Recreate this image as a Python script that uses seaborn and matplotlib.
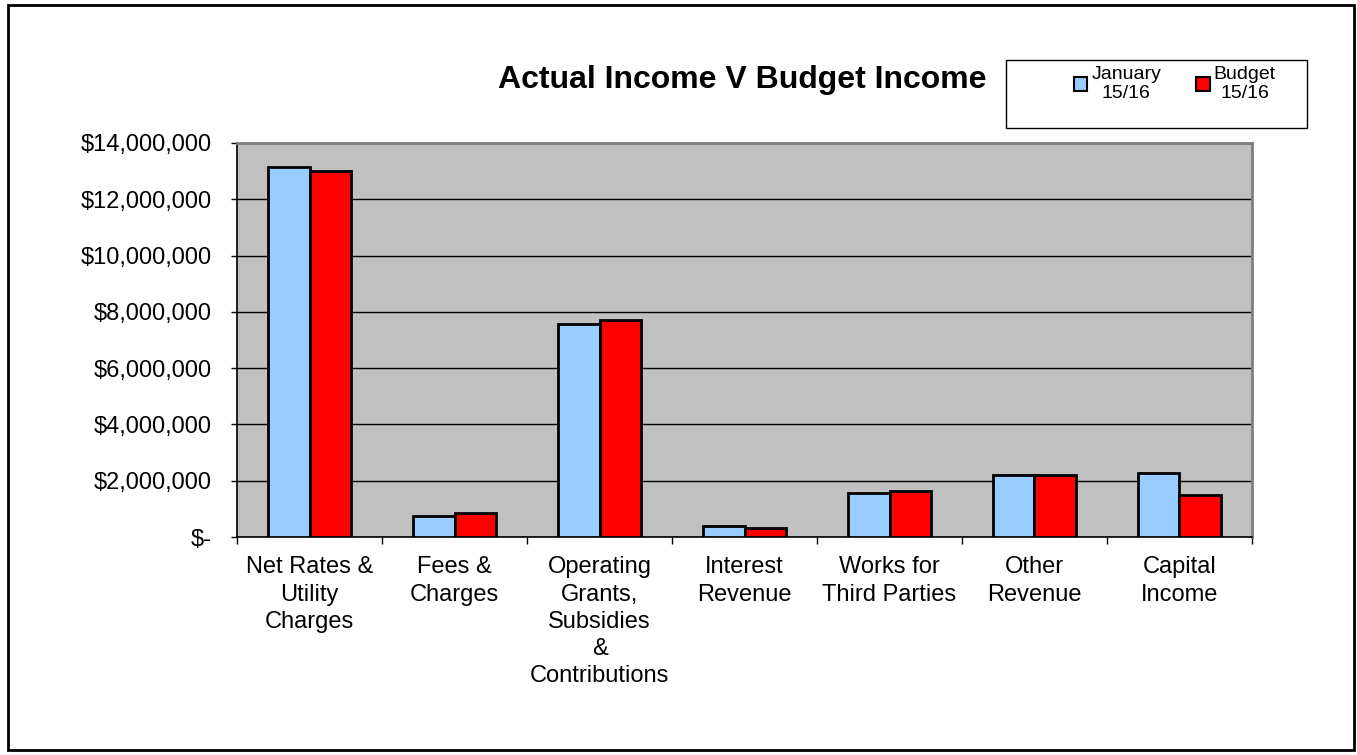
import numpy as np
import pandas as pd
import seaborn as sns
import matplotlib
matplotlib.use("Agg")
import matplotlib.pyplot as plt
from matplotlib.patches import Rectangle, Patch
from matplotlib.ticker import FuncFormatter, MultipleLocator

categories = ["Net Rates &\nUtility\nCharges", "Fees &\nCharges",
              "Operating\nGrants,\nSubsidies\n&\nContributions",
              "Interest\nRevenue", "Works for\nThird Parties",
              "Other\nRevenue", "Capital\nIncome"]
series = ["January\n15/16", "Budget\n15/16"]
january = [13150000, 745000, 7570000, 400000, 1550000, 2200000, 2260000]
budget = [13000000, 840000, 7710000, 330000, 1620000, 2220000, 1500000]
colors = ["#99CCFF", "#FF0000"]

df = pd.DataFrame({
    "category": categories * 2,
    "series": [series[0]] * len(categories) + [series[1]] * len(categories),
    "value": january + budget,
})

sns.set_style("white")
plt.rcParams["font.family"] = ["Liberation Sans", "DejaVu Sans"]
plt.rcParams["text.color"] = "black"
plt.rcParams["xtick.color"] = "black"
plt.rcParams["ytick.color"] = "black"

fig = plt.figure(figsize=(13.57, 7.55), dpi=100)
ax = fig.add_axes([0.1747, 0.2887, 0.7479, 0.5219])
ax.set_facecolor("#C0C0C0")

sns.barplot(data=df, x="category", y="value", hue="series", palette=colors,
            saturation=1, width=0.57, edgecolor="black", linewidth=2, ax=ax,
            legend=False, zorder=3)

ax.set_xlim(-0.5, len(categories) - 0.5)
ax.set_ylim(0, 14000000)
ax.yaxis.set_major_locator(MultipleLocator(2000000))
ax.yaxis.set_major_formatter(FuncFormatter(
    lambda v, p: "$-" if v == 0 else "${:,.0f}".format(v)))
ax.grid(axis="y", color="black", linewidth=1, zorder=1)
ax.set_axisbelow(True)

ax.set_xlabel("")
ax.set_ylabel("")
ax.set_xticks(np.arange(-0.5, len(categories), 1), minor=True)
ax.tick_params(axis="x", which="major", length=0, pad=14, labelsize=17)
ax.tick_params(axis="x", which="minor", length=5, width=1, direction="out", color="black")
ax.tick_params(axis="y", length=4, width=1, direction="out", color="black", labelsize=17, pad=14)
ax.xaxis.set_ticks_position("bottom")
ax.yaxis.set_ticks_position("left")
for lab in ax.get_xticklabels():
    lab.set_linespacing(1.3)

for side in ["left", "bottom"]:
    ax.spines[side].set_color("black")
    ax.spines[side].set_linewidth(1.2)
for side in ["top", "right"]:
    ax.spines[side].set_color("#808080")
    ax.spines[side].set_linewidth(2)

fig.text(0.547, 1 - 80 / 755, "Actual Income V Budget Income", ha="center", va="center",
         fontsize=23, fontweight="bold")

# legend box
fig.patches.append(Rectangle((1006 / 1357, 1 - 128 / 755), 301 / 1357, 68 / 755,
                             transform=fig.transFigure, facecolor="white",
                             edgecolor="black", linewidth=1))
handles = [Patch(facecolor=c, edgecolor="black", linewidth=1.5) for c in colors]
leg = fig.legend(handles, series, loc="upper left", bbox_to_anchor=(1066 / 1357, 1 - 58 / 755),
                 ncol=2, frameon=False, fontsize=14, handlelength=0.7, handleheight=0.7,
                 handletextpad=0.2, columnspacing=1.8, borderaxespad=0.0)
for t in leg.get_texts():
    t.set_multialignment("center")

# outer border
fig.patches.append(Rectangle((8 / 1357, 5 / 755), 1346 / 1357, 745 / 755,
                             transform=fig.transFigure, facecolor="none",
                             edgecolor="black", linewidth=2))

fig.savefig("out.png", dpi=100)
